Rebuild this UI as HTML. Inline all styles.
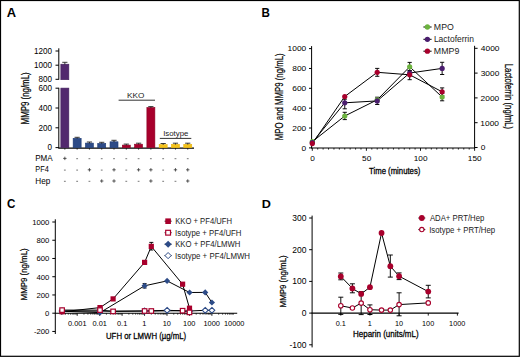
<!DOCTYPE html>
<html><head><meta charset="utf-8"><style>
html,body{margin:0;padding:0;background:#fff;}
svg{display:block;}
text{font-family:"Liberation Sans", sans-serif;}
</style></head><body>
<svg width="520" height="357" viewBox="0 0 520 357">
<rect x="0" y="0" width="520" height="357" fill="#fff"/>
<text x="6.89" y="16.9" font-size="12.21" font-weight="bold" fill="#000" textLength="9.35" lengthAdjust="spacingAndGlyphs">A</text>
<line x1="58.8" y1="48.3" x2="58.8" y2="79.7" stroke="#000" stroke-width="1"/>
<line x1="58.8" y1="87.8" x2="58.8" y2="148.2" stroke="#000" stroke-width="1"/>
<line x1="55.5" y1="51" x2="58.8" y2="51" stroke="#000" stroke-width="1"/>
<text x="34.03" y="53.75" font-size="8.33" font-weight="normal" fill="#000" textLength="17.98" lengthAdjust="spacingAndGlyphs">1200</text>
<line x1="55.5" y1="65.2" x2="58.8" y2="65.2" stroke="#000" stroke-width="1"/>
<text x="34.03" y="67.95" font-size="8.33" font-weight="normal" fill="#000" textLength="17.98" lengthAdjust="spacingAndGlyphs">1000</text>
<line x1="55.5" y1="79.3" x2="58.8" y2="79.3" stroke="#000" stroke-width="1"/>
<text x="38.52" y="82.05" font-size="8.33" font-weight="normal" fill="#000" textLength="13.49" lengthAdjust="spacingAndGlyphs">800</text>
<line x1="55.5" y1="88.2" x2="58.8" y2="88.2" stroke="#000" stroke-width="1"/>
<text x="38.52" y="90.95" font-size="8.33" font-weight="normal" fill="#000" textLength="13.49" lengthAdjust="spacingAndGlyphs">600</text>
<line x1="55.5" y1="108" x2="58.8" y2="108" stroke="#000" stroke-width="1"/>
<text x="38.52" y="110.75" font-size="8.33" font-weight="normal" fill="#000" textLength="13.49" lengthAdjust="spacingAndGlyphs">400</text>
<line x1="55.5" y1="127.8" x2="58.8" y2="127.8" stroke="#000" stroke-width="1"/>
<text x="38.52" y="130.55" font-size="8.33" font-weight="normal" fill="#000" textLength="13.49" lengthAdjust="spacingAndGlyphs">200</text>
<line x1="55.5" y1="147.6" x2="58.8" y2="147.6" stroke="#000" stroke-width="1"/>
<text x="47.51" y="150.35" font-size="8.33" font-weight="normal" fill="#000" textLength="4.5" lengthAdjust="spacingAndGlyphs">0</text>
<text transform="translate(29,123.8) rotate(-90)" x="-0.65" y="0" font-size="10.03" font-weight="normal" fill="#000" stroke="#000" stroke-width="0.22" textLength="52.14" lengthAdjust="spacingAndGlyphs">MMP9 (ng/mL)</text>
<line x1="58.3" y1="148.1" x2="194" y2="148.1" stroke="#000" stroke-width="1.2"/>
<rect x="60.85" y="64.2" width="8" height="15.5" fill="#52286e" stroke="#43205c" stroke-width="0.6"/>
<rect x="60.85" y="88.1" width="8" height="59.6" fill="#52286e" stroke="#43205c" stroke-width="0.6"/>
<line x1="64.85" y1="62.3" x2="64.85" y2="64.4" stroke="#000" stroke-width="0.8"/>
<line x1="62.25" y1="62.3" x2="67.45" y2="62.3" stroke="#222" stroke-width="0.9"/>
<line x1="64.85" y1="148.3" x2="64.85" y2="149.6" stroke="#000" stroke-width="0.8"/>
<rect x="73.14" y="138.3" width="8" height="9.4" fill="#2d4b87" stroke="#1d3a74" stroke-width="0.6"/>
<line x1="77.14" y1="137.3" x2="77.14" y2="138.5" stroke="#000" stroke-width="0.8"/>
<line x1="74.54" y1="137.3" x2="79.74" y2="137.3" stroke="#222" stroke-width="0.9"/>
<line x1="77.14" y1="148.3" x2="77.14" y2="149.6" stroke="#000" stroke-width="0.8"/>
<rect x="85.43" y="143.1" width="8" height="4.6" fill="#2d4b87" stroke="#1d3a74" stroke-width="0.6"/>
<line x1="89.43" y1="142" x2="89.43" y2="143.3" stroke="#000" stroke-width="0.8"/>
<line x1="86.83" y1="142" x2="92.03" y2="142" stroke="#222" stroke-width="0.9"/>
<line x1="89.43" y1="148.3" x2="89.43" y2="149.6" stroke="#000" stroke-width="0.8"/>
<rect x="97.72" y="143.4" width="8" height="4.3" fill="#2d4b87" stroke="#1d3a74" stroke-width="0.6"/>
<line x1="101.72" y1="142.3" x2="101.72" y2="143.6" stroke="#000" stroke-width="0.8"/>
<line x1="99.12" y1="142.3" x2="104.32" y2="142.3" stroke="#222" stroke-width="0.9"/>
<line x1="101.72" y1="148.3" x2="101.72" y2="149.6" stroke="#000" stroke-width="0.8"/>
<rect x="110.01" y="141.8" width="8" height="5.9" fill="#2d4b87" stroke="#1d3a74" stroke-width="0.6"/>
<line x1="114.01" y1="140.3" x2="114.01" y2="142" stroke="#000" stroke-width="0.8"/>
<line x1="111.41" y1="140.3" x2="116.61" y2="140.3" stroke="#222" stroke-width="0.9"/>
<line x1="114.01" y1="148.3" x2="114.01" y2="149.6" stroke="#000" stroke-width="0.8"/>
<rect x="122.3" y="145.1" width="8" height="2.6" fill="#a8002c" stroke="#8c0024" stroke-width="0.6"/>
<line x1="126.3" y1="144.1" x2="126.3" y2="145.3" stroke="#000" stroke-width="0.8"/>
<line x1="123.7" y1="144.1" x2="128.9" y2="144.1" stroke="#222" stroke-width="0.9"/>
<line x1="126.3" y1="148.3" x2="126.3" y2="149.6" stroke="#000" stroke-width="0.8"/>
<rect x="134.59" y="144.2" width="8" height="3.5" fill="#a8002c" stroke="#8c0024" stroke-width="0.6"/>
<line x1="138.59" y1="143.2" x2="138.59" y2="144.4" stroke="#000" stroke-width="0.8"/>
<line x1="135.99" y1="143.2" x2="141.19" y2="143.2" stroke="#222" stroke-width="0.9"/>
<line x1="138.59" y1="148.3" x2="138.59" y2="149.6" stroke="#000" stroke-width="0.8"/>
<rect x="146.88" y="107.5" width="8" height="40.2" fill="#a8002c" stroke="#8c0024" stroke-width="0.6"/>
<line x1="150.88" y1="106.6" x2="150.88" y2="107.7" stroke="#000" stroke-width="0.8"/>
<line x1="148.28" y1="106.6" x2="153.48" y2="106.6" stroke="#222" stroke-width="0.9"/>
<line x1="150.88" y1="148.3" x2="150.88" y2="149.6" stroke="#000" stroke-width="0.8"/>
<rect x="159.17" y="144.6" width="8" height="3.1" fill="#f4c21a" stroke="#e8b410" stroke-width="0.6"/>
<line x1="163.17" y1="143.5" x2="163.17" y2="144.8" stroke="#000" stroke-width="0.8"/>
<line x1="160.57" y1="143.5" x2="165.77" y2="143.5" stroke="#222" stroke-width="0.9"/>
<line x1="163.17" y1="148.3" x2="163.17" y2="149.6" stroke="#000" stroke-width="0.8"/>
<rect x="171.46" y="144.3" width="8" height="3.4" fill="#f4c21a" stroke="#e8b410" stroke-width="0.6"/>
<line x1="175.46" y1="143.2" x2="175.46" y2="144.5" stroke="#000" stroke-width="0.8"/>
<line x1="172.86" y1="143.2" x2="178.06" y2="143.2" stroke="#222" stroke-width="0.9"/>
<line x1="175.46" y1="148.3" x2="175.46" y2="149.6" stroke="#000" stroke-width="0.8"/>
<rect x="183.75" y="144.3" width="8" height="3.4" fill="#f4c21a" stroke="#e8b410" stroke-width="0.6"/>
<line x1="187.75" y1="143.2" x2="187.75" y2="144.5" stroke="#000" stroke-width="0.8"/>
<line x1="185.15" y1="143.2" x2="190.35" y2="143.2" stroke="#222" stroke-width="0.9"/>
<line x1="187.75" y1="148.3" x2="187.75" y2="149.6" stroke="#000" stroke-width="0.8"/>
<line x1="118.6" y1="100.2" x2="155" y2="100.2" stroke="#333" stroke-width="1"/>
<text x="127.13" y="98.3" font-size="7.99" font-weight="normal" fill="#222" textLength="17.37" lengthAdjust="spacingAndGlyphs">KKO</text>
<line x1="159.8" y1="138.4" x2="191.3" y2="138.4" stroke="#333" stroke-width="1"/>
<text x="163.18" y="135.8" font-size="7.85" font-weight="normal" fill="#222" textLength="25.27" lengthAdjust="spacingAndGlyphs">Isotype</text>
<text x="35.24" y="161" font-size="8.72" font-weight="normal" fill="#000" textLength="17.48" lengthAdjust="spacingAndGlyphs">PMA</text>
<text x="35.3" y="172.1" font-size="8.14" font-weight="normal" fill="#000" textLength="13.52" lengthAdjust="spacingAndGlyphs">PF4</text>
<text x="35.23" y="183.6" font-size="8.14" font-weight="normal" fill="#000" textLength="15.01" lengthAdjust="spacingAndGlyphs">Hep</text>
<line x1="63.15" y1="158.4" x2="66.55" y2="158.4" stroke="#333" stroke-width="0.8"/>
<line x1="64.85" y1="156.7" x2="64.85" y2="160.1" stroke="#333" stroke-width="0.8"/>
<line x1="76.24" y1="158.7" x2="78.04" y2="158.7" stroke="#555" stroke-width="0.8"/>
<line x1="88.53" y1="158.7" x2="90.33" y2="158.7" stroke="#555" stroke-width="0.8"/>
<line x1="100.82" y1="158.7" x2="102.62" y2="158.7" stroke="#555" stroke-width="0.8"/>
<line x1="113.11" y1="158.7" x2="114.91" y2="158.7" stroke="#555" stroke-width="0.8"/>
<line x1="125.4" y1="158.7" x2="127.2" y2="158.7" stroke="#555" stroke-width="0.8"/>
<line x1="137.69" y1="158.7" x2="139.49" y2="158.7" stroke="#555" stroke-width="0.8"/>
<line x1="149.98" y1="158.7" x2="151.78" y2="158.7" stroke="#555" stroke-width="0.8"/>
<line x1="162.27" y1="158.7" x2="164.07" y2="158.7" stroke="#555" stroke-width="0.8"/>
<line x1="174.56" y1="158.7" x2="176.36" y2="158.7" stroke="#555" stroke-width="0.8"/>
<line x1="186.85" y1="158.7" x2="188.65" y2="158.7" stroke="#555" stroke-width="0.8"/>
<line x1="63.95" y1="170.1" x2="65.75" y2="170.1" stroke="#555" stroke-width="0.8"/>
<line x1="76.24" y1="170.1" x2="78.04" y2="170.1" stroke="#555" stroke-width="0.8"/>
<line x1="87.73" y1="169.8" x2="91.13" y2="169.8" stroke="#333" stroke-width="0.8"/>
<line x1="89.43" y1="168.1" x2="89.43" y2="171.5" stroke="#333" stroke-width="0.8"/>
<line x1="100.82" y1="170.1" x2="102.62" y2="170.1" stroke="#555" stroke-width="0.8"/>
<line x1="112.31" y1="169.8" x2="115.71" y2="169.8" stroke="#333" stroke-width="0.8"/>
<line x1="114.01" y1="168.1" x2="114.01" y2="171.5" stroke="#333" stroke-width="0.8"/>
<line x1="125.4" y1="170.1" x2="127.2" y2="170.1" stroke="#555" stroke-width="0.8"/>
<line x1="136.89" y1="169.8" x2="140.29" y2="169.8" stroke="#333" stroke-width="0.8"/>
<line x1="138.59" y1="168.1" x2="138.59" y2="171.5" stroke="#333" stroke-width="0.8"/>
<line x1="149.18" y1="169.8" x2="152.58" y2="169.8" stroke="#333" stroke-width="0.8"/>
<line x1="150.88" y1="168.1" x2="150.88" y2="171.5" stroke="#333" stroke-width="0.8"/>
<line x1="162.27" y1="170.1" x2="164.07" y2="170.1" stroke="#555" stroke-width="0.8"/>
<line x1="173.76" y1="169.8" x2="177.16" y2="169.8" stroke="#333" stroke-width="0.8"/>
<line x1="175.46" y1="168.1" x2="175.46" y2="171.5" stroke="#333" stroke-width="0.8"/>
<line x1="186.05" y1="169.8" x2="189.45" y2="169.8" stroke="#333" stroke-width="0.8"/>
<line x1="187.75" y1="168.1" x2="187.75" y2="171.5" stroke="#333" stroke-width="0.8"/>
<line x1="63.95" y1="181.3" x2="65.75" y2="181.3" stroke="#555" stroke-width="0.8"/>
<line x1="76.24" y1="181.3" x2="78.04" y2="181.3" stroke="#555" stroke-width="0.8"/>
<line x1="88.53" y1="181.3" x2="90.33" y2="181.3" stroke="#555" stroke-width="0.8"/>
<line x1="100.02" y1="181" x2="103.42" y2="181" stroke="#333" stroke-width="0.8"/>
<line x1="101.72" y1="179.3" x2="101.72" y2="182.7" stroke="#333" stroke-width="0.8"/>
<line x1="112.31" y1="181" x2="115.71" y2="181" stroke="#333" stroke-width="0.8"/>
<line x1="114.01" y1="179.3" x2="114.01" y2="182.7" stroke="#333" stroke-width="0.8"/>
<line x1="125.4" y1="181.3" x2="127.2" y2="181.3" stroke="#555" stroke-width="0.8"/>
<line x1="137.69" y1="181.3" x2="139.49" y2="181.3" stroke="#555" stroke-width="0.8"/>
<line x1="149.18" y1="181" x2="152.58" y2="181" stroke="#333" stroke-width="0.8"/>
<line x1="150.88" y1="179.3" x2="150.88" y2="182.7" stroke="#333" stroke-width="0.8"/>
<line x1="162.27" y1="181.3" x2="164.07" y2="181.3" stroke="#555" stroke-width="0.8"/>
<line x1="174.56" y1="181.3" x2="176.36" y2="181.3" stroke="#555" stroke-width="0.8"/>
<line x1="186.05" y1="181" x2="189.45" y2="181" stroke="#333" stroke-width="0.8"/>
<line x1="187.75" y1="179.3" x2="187.75" y2="182.7" stroke="#333" stroke-width="0.8"/>
<text x="261.43" y="17" font-size="12.5" font-weight="bold" fill="#000" textLength="8.39" lengthAdjust="spacingAndGlyphs">B</text>
<line x1="311.6" y1="46.1" x2="311.6" y2="148.4" stroke="#000" stroke-width="1"/>
<line x1="309" y1="147.9" x2="311.6" y2="147.9" stroke="#000" stroke-width="1"/>
<text x="301.56" y="150.7" font-size="7.91" font-weight="normal" fill="#000" textLength="4.66" lengthAdjust="spacingAndGlyphs">0</text>
<line x1="309" y1="128.04" x2="311.6" y2="128.04" stroke="#000" stroke-width="1"/>
<text x="292.23" y="130.84" font-size="7.91" font-weight="normal" fill="#000" textLength="13.99" lengthAdjust="spacingAndGlyphs">200</text>
<line x1="309" y1="108.18" x2="311.6" y2="108.18" stroke="#000" stroke-width="1"/>
<text x="292.23" y="110.98" font-size="7.91" font-weight="normal" fill="#000" textLength="13.99" lengthAdjust="spacingAndGlyphs">400</text>
<line x1="309" y1="88.32" x2="311.6" y2="88.32" stroke="#000" stroke-width="1"/>
<text x="292.23" y="91.12" font-size="7.91" font-weight="normal" fill="#000" textLength="13.99" lengthAdjust="spacingAndGlyphs">600</text>
<line x1="309" y1="68.46" x2="311.6" y2="68.46" stroke="#000" stroke-width="1"/>
<text x="292.23" y="71.26" font-size="7.91" font-weight="normal" fill="#000" textLength="13.99" lengthAdjust="spacingAndGlyphs">800</text>
<line x1="309" y1="48.6" x2="311.6" y2="48.6" stroke="#000" stroke-width="1"/>
<text x="287.57" y="51.4" font-size="7.91" font-weight="normal" fill="#000" textLength="18.65" lengthAdjust="spacingAndGlyphs">1000</text>
<text transform="translate(282.6,139.5) rotate(-90)" x="-0.64" y="0" font-size="10.61" font-weight="normal" fill="#000" stroke="#000" stroke-width="0.22" textLength="86.73" lengthAdjust="spacingAndGlyphs">MPO and MMP9 (ng/mL)</text>
<line x1="311.1" y1="148" x2="474.6" y2="148" stroke="#000" stroke-width="1.2"/>
<line x1="312.3" y1="148" x2="312.3" y2="150.8" stroke="#000" stroke-width="0.9"/>
<line x1="317.71" y1="148" x2="317.71" y2="149.6" stroke="#000" stroke-width="0.8"/>
<line x1="323.12" y1="148" x2="323.12" y2="149.6" stroke="#000" stroke-width="0.8"/>
<line x1="328.53" y1="148" x2="328.53" y2="149.6" stroke="#000" stroke-width="0.8"/>
<line x1="333.94" y1="148" x2="333.94" y2="149.6" stroke="#000" stroke-width="0.8"/>
<line x1="339.35" y1="148" x2="339.35" y2="149.6" stroke="#000" stroke-width="0.8"/>
<line x1="344.76" y1="148" x2="344.76" y2="149.6" stroke="#000" stroke-width="0.8"/>
<line x1="350.17" y1="148" x2="350.17" y2="149.6" stroke="#000" stroke-width="0.8"/>
<line x1="355.58" y1="148" x2="355.58" y2="149.6" stroke="#000" stroke-width="0.8"/>
<line x1="360.99" y1="148" x2="360.99" y2="149.6" stroke="#000" stroke-width="0.8"/>
<line x1="366.4" y1="148" x2="366.4" y2="150.8" stroke="#000" stroke-width="0.9"/>
<line x1="371.81" y1="148" x2="371.81" y2="149.6" stroke="#000" stroke-width="0.8"/>
<line x1="377.22" y1="148" x2="377.22" y2="149.6" stroke="#000" stroke-width="0.8"/>
<line x1="382.63" y1="148" x2="382.63" y2="149.6" stroke="#000" stroke-width="0.8"/>
<line x1="388.04" y1="148" x2="388.04" y2="149.6" stroke="#000" stroke-width="0.8"/>
<line x1="393.45" y1="148" x2="393.45" y2="149.6" stroke="#000" stroke-width="0.8"/>
<line x1="398.86" y1="148" x2="398.86" y2="149.6" stroke="#000" stroke-width="0.8"/>
<line x1="404.27" y1="148" x2="404.27" y2="149.6" stroke="#000" stroke-width="0.8"/>
<line x1="409.68" y1="148" x2="409.68" y2="149.6" stroke="#000" stroke-width="0.8"/>
<line x1="415.09" y1="148" x2="415.09" y2="149.6" stroke="#000" stroke-width="0.8"/>
<line x1="420.5" y1="148" x2="420.5" y2="150.8" stroke="#000" stroke-width="0.9"/>
<line x1="425.91" y1="148" x2="425.91" y2="149.6" stroke="#000" stroke-width="0.8"/>
<line x1="431.32" y1="148" x2="431.32" y2="149.6" stroke="#000" stroke-width="0.8"/>
<line x1="436.73" y1="148" x2="436.73" y2="149.6" stroke="#000" stroke-width="0.8"/>
<line x1="442.14" y1="148" x2="442.14" y2="149.6" stroke="#000" stroke-width="0.8"/>
<line x1="447.55" y1="148" x2="447.55" y2="149.6" stroke="#000" stroke-width="0.8"/>
<line x1="452.96" y1="148" x2="452.96" y2="149.6" stroke="#000" stroke-width="0.8"/>
<line x1="458.37" y1="148" x2="458.37" y2="149.6" stroke="#000" stroke-width="0.8"/>
<line x1="463.78" y1="148" x2="463.78" y2="149.6" stroke="#000" stroke-width="0.8"/>
<line x1="469.19" y1="148" x2="469.19" y2="149.6" stroke="#000" stroke-width="0.8"/>
<line x1="474.6" y1="148" x2="474.6" y2="150.8" stroke="#000" stroke-width="0.9"/>
<text x="310.31" y="161.4" font-size="7.77" font-weight="normal" fill="#000" textLength="4.58" lengthAdjust="spacingAndGlyphs">0</text>
<text x="362.11" y="161.4" font-size="7.77" font-weight="normal" fill="#000" textLength="9.16" lengthAdjust="spacingAndGlyphs">50</text>
<text x="413.78" y="161.4" font-size="7.77" font-weight="normal" fill="#000" textLength="13.74" lengthAdjust="spacingAndGlyphs">100</text>
<text x="467.88" y="161.4" font-size="7.77" font-weight="normal" fill="#000" textLength="13.74" lengthAdjust="spacingAndGlyphs">150</text>
<text x="369.03" y="174" font-size="9.45" font-weight="normal" fill="#000" stroke="#000" stroke-width="0.3" textLength="51.35" lengthAdjust="spacingAndGlyphs">Time (minutes)</text>
<line x1="474.6" y1="45.8" x2="474.6" y2="148.4" stroke="#000" stroke-width="1"/>
<line x1="474.6" y1="147.5" x2="477.6" y2="147.5" stroke="#000" stroke-width="1"/>
<text x="480.67" y="150.3" font-size="7.91" font-weight="normal" fill="#000" textLength="4.66" lengthAdjust="spacingAndGlyphs">0</text>
<line x1="474.6" y1="122.7" x2="477.6" y2="122.7" stroke="#000" stroke-width="1"/>
<text x="480.36" y="125.5" font-size="7.91" font-weight="normal" fill="#000" textLength="18.65" lengthAdjust="spacingAndGlyphs">1000</text>
<line x1="474.6" y1="97.9" x2="477.6" y2="97.9" stroke="#000" stroke-width="1"/>
<text x="480.58" y="100.7" font-size="7.91" font-weight="normal" fill="#000" textLength="18.65" lengthAdjust="spacingAndGlyphs">2000</text>
<line x1="474.6" y1="73.1" x2="477.6" y2="73.1" stroke="#000" stroke-width="1"/>
<text x="480.68" y="75.9" font-size="7.91" font-weight="normal" fill="#000" textLength="18.65" lengthAdjust="spacingAndGlyphs">3000</text>
<line x1="474.6" y1="48.3" x2="477.6" y2="48.3" stroke="#000" stroke-width="1"/>
<text x="480.82" y="51.1" font-size="7.91" font-weight="normal" fill="#000" textLength="18.65" lengthAdjust="spacingAndGlyphs">4000</text>
<text transform="translate(505.4,64.4) rotate(90)" x="-0.63" y="0" font-size="10.03" font-weight="normal" fill="#000" stroke="#000" stroke-width="0.22" textLength="65.41" lengthAdjust="spacingAndGlyphs">Lactoferrin (ng/mL)</text>
<polyline points="312.3,141.7 344.76,116 377.22,99.8 409.68,66.8 442.14,97" fill="none" stroke="#000" stroke-width="1" stroke-linejoin="round"/>
<polyline points="312.3,142.5 344.76,102.8 377.22,100.9 409.68,73 442.14,68.4" fill="none" stroke="#000" stroke-width="1" stroke-linejoin="round"/>
<polyline points="312.3,143.6 344.76,96.5 377.22,72.3 409.68,74.8 442.14,91.8" fill="none" stroke="#000" stroke-width="1" stroke-linejoin="round"/>
<line x1="344.76" y1="112.3" x2="344.76" y2="119.6" stroke="#000" stroke-width="0.95"/>
<line x1="342.66" y1="112.3" x2="346.86" y2="112.3" stroke="#000" stroke-width="0.95"/>
<line x1="342.66" y1="119.6" x2="346.86" y2="119.6" stroke="#000" stroke-width="0.95"/>
<line x1="409.68" y1="62.4" x2="409.68" y2="70.5" stroke="#000" stroke-width="0.95"/>
<line x1="407.58" y1="62.4" x2="411.78" y2="62.4" stroke="#000" stroke-width="0.95"/>
<line x1="407.58" y1="70.5" x2="411.78" y2="70.5" stroke="#000" stroke-width="0.95"/>
<line x1="442.14" y1="93.5" x2="442.14" y2="100.8" stroke="#000" stroke-width="0.95"/>
<line x1="440.04" y1="93.5" x2="444.24" y2="93.5" stroke="#000" stroke-width="0.95"/>
<line x1="440.04" y1="100.8" x2="444.24" y2="100.8" stroke="#000" stroke-width="0.95"/>
<line x1="344.76" y1="99.2" x2="344.76" y2="108.8" stroke="#000" stroke-width="0.95"/>
<line x1="342.66" y1="99.2" x2="346.86" y2="99.2" stroke="#000" stroke-width="0.95"/>
<line x1="342.66" y1="108.8" x2="346.86" y2="108.8" stroke="#000" stroke-width="0.95"/>
<line x1="377.22" y1="97.2" x2="377.22" y2="104.5" stroke="#000" stroke-width="0.95"/>
<line x1="375.12" y1="97.2" x2="379.32" y2="97.2" stroke="#000" stroke-width="0.95"/>
<line x1="375.12" y1="104.5" x2="379.32" y2="104.5" stroke="#000" stroke-width="0.95"/>
<line x1="442.14" y1="62.3" x2="442.14" y2="74.5" stroke="#000" stroke-width="0.95"/>
<line x1="440.04" y1="62.3" x2="444.24" y2="62.3" stroke="#000" stroke-width="0.95"/>
<line x1="440.04" y1="74.5" x2="444.24" y2="74.5" stroke="#000" stroke-width="0.95"/>
<line x1="377.22" y1="68.4" x2="377.22" y2="76.3" stroke="#000" stroke-width="0.95"/>
<line x1="375.12" y1="68.4" x2="379.32" y2="68.4" stroke="#000" stroke-width="0.95"/>
<line x1="375.12" y1="76.3" x2="379.32" y2="76.3" stroke="#000" stroke-width="0.95"/>
<line x1="409.68" y1="71" x2="409.68" y2="79.7" stroke="#000" stroke-width="0.95"/>
<line x1="407.58" y1="71" x2="411.78" y2="71" stroke="#000" stroke-width="0.95"/>
<line x1="407.58" y1="79.7" x2="411.78" y2="79.7" stroke="#000" stroke-width="0.95"/>
<line x1="442.14" y1="87.9" x2="442.14" y2="95.5" stroke="#000" stroke-width="0.95"/>
<line x1="440.04" y1="87.9" x2="444.24" y2="87.9" stroke="#000" stroke-width="0.95"/>
<line x1="440.04" y1="95.5" x2="444.24" y2="95.5" stroke="#000" stroke-width="0.95"/>
<circle cx="312.3" cy="141.7" r="2.6" fill="#6cb33f"/>
<circle cx="344.76" cy="116" r="2.6" fill="#6cb33f"/>
<circle cx="377.22" cy="99.8" r="2.6" fill="#6cb33f"/>
<circle cx="409.68" cy="66.8" r="2.6" fill="#6cb33f"/>
<circle cx="442.14" cy="97" r="2.6" fill="#6cb33f"/>
<circle cx="312.3" cy="142.5" r="2.6" fill="#4a1d6e"/>
<circle cx="344.76" cy="102.8" r="2.6" fill="#4a1d6e"/>
<circle cx="377.22" cy="100.9" r="2.6" fill="#4a1d6e"/>
<circle cx="409.68" cy="73" r="2.6" fill="#4a1d6e"/>
<circle cx="442.14" cy="68.4" r="2.6" fill="#4a1d6e"/>
<circle cx="312.3" cy="143.6" r="2.6" fill="#a8002c"/>
<circle cx="344.76" cy="96.5" r="2.6" fill="#a8002c"/>
<circle cx="377.22" cy="72.3" r="2.6" fill="#a8002c"/>
<circle cx="409.68" cy="74.8" r="2.6" fill="#a8002c"/>
<circle cx="442.14" cy="91.8" r="2.6" fill="#a8002c"/>
<line x1="423.4" y1="27" x2="431.6" y2="27" stroke="#000" stroke-width="1"/>
<circle cx="427.4" cy="27" r="2.65" fill="#6cb33f"/>
<text x="433.88" y="29.9" font-size="8.28" font-weight="normal" fill="#222" textLength="19.94" lengthAdjust="spacingAndGlyphs">MPO</text>
<line x1="423.4" y1="39.3" x2="431.6" y2="39.3" stroke="#000" stroke-width="1"/>
<circle cx="427.4" cy="39.3" r="2.65" fill="#4a1d6e"/>
<text x="433.91" y="42.2" font-size="8.28" font-weight="normal" fill="#222" textLength="40.04" lengthAdjust="spacingAndGlyphs">Lactoferrin</text>
<line x1="423.4" y1="51.2" x2="431.6" y2="51.2" stroke="#000" stroke-width="1"/>
<circle cx="427.4" cy="51.2" r="2.65" fill="#a8002c"/>
<text x="433.88" y="54.1" font-size="8.28" font-weight="normal" fill="#222" textLength="25.44" lengthAdjust="spacingAndGlyphs">MMP9</text>
<text x="7.02" y="208" font-size="11.92" font-weight="bold" fill="#000" textLength="8.39" lengthAdjust="spacingAndGlyphs">C</text>
<line x1="55.3" y1="219.3" x2="55.3" y2="334" stroke="#000" stroke-width="1"/>
<line x1="52.3" y1="331.44" x2="55.3" y2="331.44" stroke="#000" stroke-width="1"/>
<text x="33.88" y="334.24" font-size="7.91" font-weight="normal" fill="#000" textLength="15.51" lengthAdjust="spacingAndGlyphs">-200</text>
<line x1="52.3" y1="313.2" x2="55.3" y2="313.2" stroke="#000" stroke-width="1"/>
<text x="45.08" y="316" font-size="7.91" font-weight="normal" fill="#000" textLength="4.31" lengthAdjust="spacingAndGlyphs">0</text>
<line x1="52.3" y1="294.96" x2="55.3" y2="294.96" stroke="#000" stroke-width="1"/>
<text x="36.47" y="297.76" font-size="7.91" font-weight="normal" fill="#000" textLength="12.93" lengthAdjust="spacingAndGlyphs">200</text>
<line x1="52.3" y1="276.72" x2="55.3" y2="276.72" stroke="#000" stroke-width="1"/>
<text x="36.47" y="279.52" font-size="7.91" font-weight="normal" fill="#000" textLength="12.93" lengthAdjust="spacingAndGlyphs">400</text>
<line x1="52.3" y1="258.48" x2="55.3" y2="258.48" stroke="#000" stroke-width="1"/>
<text x="36.47" y="261.28" font-size="7.91" font-weight="normal" fill="#000" textLength="12.93" lengthAdjust="spacingAndGlyphs">600</text>
<line x1="52.3" y1="240.24" x2="55.3" y2="240.24" stroke="#000" stroke-width="1"/>
<text x="36.47" y="243.04" font-size="7.91" font-weight="normal" fill="#000" textLength="12.93" lengthAdjust="spacingAndGlyphs">800</text>
<line x1="52.3" y1="222" x2="55.3" y2="222" stroke="#000" stroke-width="1"/>
<text x="32.16" y="224.8" font-size="7.91" font-weight="normal" fill="#000" textLength="17.24" lengthAdjust="spacingAndGlyphs">1000</text>
<text transform="translate(26.7,299.8) rotate(-90)" x="-0.65" y="0" font-size="9.59" font-weight="normal" fill="#000" stroke="#000" stroke-width="0.22" textLength="52.14" lengthAdjust="spacingAndGlyphs">MMP9 (ng/mL)</text>
<line x1="54.8" y1="313.2" x2="237.2" y2="313.2" stroke="#000" stroke-width="1.1"/>
<line x1="61.51" y1="313.2" x2="61.51" y2="314.7" stroke="#000" stroke-width="0.7"/>
<line x1="65.46" y1="313.2" x2="65.46" y2="314.7" stroke="#000" stroke-width="0.7"/>
<line x1="68.27" y1="313.2" x2="68.27" y2="314.7" stroke="#000" stroke-width="0.7"/>
<line x1="70.44" y1="313.2" x2="70.44" y2="314.7" stroke="#000" stroke-width="0.7"/>
<line x1="72.22" y1="313.2" x2="72.22" y2="314.7" stroke="#000" stroke-width="0.7"/>
<line x1="73.72" y1="313.2" x2="73.72" y2="314.7" stroke="#000" stroke-width="0.7"/>
<line x1="75.02" y1="313.2" x2="75.02" y2="314.7" stroke="#000" stroke-width="0.7"/>
<line x1="76.17" y1="313.2" x2="76.17" y2="314.7" stroke="#000" stroke-width="0.7"/>
<line x1="77.2" y1="313.2" x2="77.2" y2="315.8" stroke="#000" stroke-width="0.9"/>
<line x1="83.96" y1="313.2" x2="83.96" y2="314.7" stroke="#000" stroke-width="0.7"/>
<line x1="87.91" y1="313.2" x2="87.91" y2="314.7" stroke="#000" stroke-width="0.7"/>
<line x1="90.72" y1="313.2" x2="90.72" y2="314.7" stroke="#000" stroke-width="0.7"/>
<line x1="92.89" y1="313.2" x2="92.89" y2="314.7" stroke="#000" stroke-width="0.7"/>
<line x1="94.67" y1="313.2" x2="94.67" y2="314.7" stroke="#000" stroke-width="0.7"/>
<line x1="96.17" y1="313.2" x2="96.17" y2="314.7" stroke="#000" stroke-width="0.7"/>
<line x1="97.47" y1="313.2" x2="97.47" y2="314.7" stroke="#000" stroke-width="0.7"/>
<line x1="98.62" y1="313.2" x2="98.62" y2="314.7" stroke="#000" stroke-width="0.7"/>
<line x1="99.65" y1="313.2" x2="99.65" y2="315.8" stroke="#000" stroke-width="0.9"/>
<line x1="106.41" y1="313.2" x2="106.41" y2="314.7" stroke="#000" stroke-width="0.7"/>
<line x1="110.36" y1="313.2" x2="110.36" y2="314.7" stroke="#000" stroke-width="0.7"/>
<line x1="113.17" y1="313.2" x2="113.17" y2="314.7" stroke="#000" stroke-width="0.7"/>
<line x1="115.34" y1="313.2" x2="115.34" y2="314.7" stroke="#000" stroke-width="0.7"/>
<line x1="117.12" y1="313.2" x2="117.12" y2="314.7" stroke="#000" stroke-width="0.7"/>
<line x1="118.62" y1="313.2" x2="118.62" y2="314.7" stroke="#000" stroke-width="0.7"/>
<line x1="119.92" y1="313.2" x2="119.92" y2="314.7" stroke="#000" stroke-width="0.7"/>
<line x1="121.07" y1="313.2" x2="121.07" y2="314.7" stroke="#000" stroke-width="0.7"/>
<line x1="122.1" y1="313.2" x2="122.1" y2="315.8" stroke="#000" stroke-width="0.9"/>
<line x1="128.86" y1="313.2" x2="128.86" y2="314.7" stroke="#000" stroke-width="0.7"/>
<line x1="132.81" y1="313.2" x2="132.81" y2="314.7" stroke="#000" stroke-width="0.7"/>
<line x1="135.62" y1="313.2" x2="135.62" y2="314.7" stroke="#000" stroke-width="0.7"/>
<line x1="137.79" y1="313.2" x2="137.79" y2="314.7" stroke="#000" stroke-width="0.7"/>
<line x1="139.57" y1="313.2" x2="139.57" y2="314.7" stroke="#000" stroke-width="0.7"/>
<line x1="141.07" y1="313.2" x2="141.07" y2="314.7" stroke="#000" stroke-width="0.7"/>
<line x1="142.37" y1="313.2" x2="142.37" y2="314.7" stroke="#000" stroke-width="0.7"/>
<line x1="143.52" y1="313.2" x2="143.52" y2="314.7" stroke="#000" stroke-width="0.7"/>
<line x1="144.55" y1="313.2" x2="144.55" y2="315.8" stroke="#000" stroke-width="0.9"/>
<line x1="151.31" y1="313.2" x2="151.31" y2="314.7" stroke="#000" stroke-width="0.7"/>
<line x1="155.26" y1="313.2" x2="155.26" y2="314.7" stroke="#000" stroke-width="0.7"/>
<line x1="158.07" y1="313.2" x2="158.07" y2="314.7" stroke="#000" stroke-width="0.7"/>
<line x1="160.24" y1="313.2" x2="160.24" y2="314.7" stroke="#000" stroke-width="0.7"/>
<line x1="162.02" y1="313.2" x2="162.02" y2="314.7" stroke="#000" stroke-width="0.7"/>
<line x1="163.52" y1="313.2" x2="163.52" y2="314.7" stroke="#000" stroke-width="0.7"/>
<line x1="164.82" y1="313.2" x2="164.82" y2="314.7" stroke="#000" stroke-width="0.7"/>
<line x1="165.97" y1="313.2" x2="165.97" y2="314.7" stroke="#000" stroke-width="0.7"/>
<line x1="167" y1="313.2" x2="167" y2="315.8" stroke="#000" stroke-width="0.9"/>
<line x1="173.76" y1="313.2" x2="173.76" y2="314.7" stroke="#000" stroke-width="0.7"/>
<line x1="177.71" y1="313.2" x2="177.71" y2="314.7" stroke="#000" stroke-width="0.7"/>
<line x1="180.52" y1="313.2" x2="180.52" y2="314.7" stroke="#000" stroke-width="0.7"/>
<line x1="182.69" y1="313.2" x2="182.69" y2="314.7" stroke="#000" stroke-width="0.7"/>
<line x1="184.47" y1="313.2" x2="184.47" y2="314.7" stroke="#000" stroke-width="0.7"/>
<line x1="185.97" y1="313.2" x2="185.97" y2="314.7" stroke="#000" stroke-width="0.7"/>
<line x1="187.27" y1="313.2" x2="187.27" y2="314.7" stroke="#000" stroke-width="0.7"/>
<line x1="188.42" y1="313.2" x2="188.42" y2="314.7" stroke="#000" stroke-width="0.7"/>
<line x1="189.45" y1="313.2" x2="189.45" y2="315.8" stroke="#000" stroke-width="0.9"/>
<line x1="196.21" y1="313.2" x2="196.21" y2="314.7" stroke="#000" stroke-width="0.7"/>
<line x1="200.16" y1="313.2" x2="200.16" y2="314.7" stroke="#000" stroke-width="0.7"/>
<line x1="202.97" y1="313.2" x2="202.97" y2="314.7" stroke="#000" stroke-width="0.7"/>
<line x1="205.14" y1="313.2" x2="205.14" y2="314.7" stroke="#000" stroke-width="0.7"/>
<line x1="206.92" y1="313.2" x2="206.92" y2="314.7" stroke="#000" stroke-width="0.7"/>
<line x1="208.42" y1="313.2" x2="208.42" y2="314.7" stroke="#000" stroke-width="0.7"/>
<line x1="209.72" y1="313.2" x2="209.72" y2="314.7" stroke="#000" stroke-width="0.7"/>
<line x1="210.87" y1="313.2" x2="210.87" y2="314.7" stroke="#000" stroke-width="0.7"/>
<line x1="211.9" y1="313.2" x2="211.9" y2="315.8" stroke="#000" stroke-width="0.9"/>
<line x1="218.66" y1="313.2" x2="218.66" y2="314.7" stroke="#000" stroke-width="0.7"/>
<line x1="222.61" y1="313.2" x2="222.61" y2="314.7" stroke="#000" stroke-width="0.7"/>
<line x1="225.42" y1="313.2" x2="225.42" y2="314.7" stroke="#000" stroke-width="0.7"/>
<line x1="227.59" y1="313.2" x2="227.59" y2="314.7" stroke="#000" stroke-width="0.7"/>
<line x1="229.37" y1="313.2" x2="229.37" y2="314.7" stroke="#000" stroke-width="0.7"/>
<line x1="230.87" y1="313.2" x2="230.87" y2="314.7" stroke="#000" stroke-width="0.7"/>
<line x1="232.17" y1="313.2" x2="232.17" y2="314.7" stroke="#000" stroke-width="0.7"/>
<line x1="233.32" y1="313.2" x2="233.32" y2="314.7" stroke="#000" stroke-width="0.7"/>
<text x="67.96" y="325.9" font-size="7.06" font-weight="normal" fill="#000" textLength="18.56" lengthAdjust="spacingAndGlyphs">0.001</text>
<text x="92.47" y="325.9" font-size="7.06" font-weight="normal" fill="#000" textLength="14.43" lengthAdjust="spacingAndGlyphs">0.01</text>
<text x="116.98" y="325.9" font-size="7.06" font-weight="normal" fill="#000" textLength="10.31" lengthAdjust="spacingAndGlyphs">0.1</text>
<text x="142.38" y="325.9" font-size="7.06" font-weight="normal" fill="#000" textLength="4.12" lengthAdjust="spacingAndGlyphs">1</text>
<text x="162.74" y="325.9" font-size="7.06" font-weight="normal" fill="#000" textLength="8.25" lengthAdjust="spacingAndGlyphs">10</text>
<text x="183.12" y="325.9" font-size="7.06" font-weight="normal" fill="#000" textLength="12.37" lengthAdjust="spacingAndGlyphs">100</text>
<text x="203.51" y="325.9" font-size="7.06" font-weight="normal" fill="#000" textLength="16.5" lengthAdjust="spacingAndGlyphs">1000</text>
<text x="223.9" y="325.9" font-size="7.06" font-weight="normal" fill="#000" textLength="20.62" lengthAdjust="spacingAndGlyphs">10000</text>
<text x="106" y="338.6" font-size="9.74" font-weight="normal" fill="#000" stroke="#000" stroke-width="0.3" textLength="80.19" lengthAdjust="spacingAndGlyphs">UFH or LMWH (µg/mL)</text>
<polyline points="62.1,311 100,311.2 144.6,311 167.1,310.3 189.6,311 205.2,310.3 211.9,310.3" fill="none" stroke="#000" stroke-width="1" stroke-linejoin="round"/>
<polyline points="62.1,311.2 100,312.6 144.6,285.8 167.1,280.9 189.6,292.5 205.2,292.4 211.9,302.5" fill="none" stroke="#000" stroke-width="1" stroke-linejoin="round"/>
<polyline points="62.1,311.8 100,307.6 113.1,298.9 144.6,262.4 151.3,246.4 182.6,284.2 189.5,308.2" fill="none" stroke="#000" stroke-width="1" stroke-linejoin="round"/>
<polyline points="62.1,310.1 100,310.1 113.1,311.4 144.6,311 151.3,311 182.6,310.7 189.5,312.4" fill="none" stroke="#000" stroke-width="1" stroke-linejoin="round"/>
<line x1="151.3" y1="242.4" x2="151.3" y2="250" stroke="#000" stroke-width="0.95"/>
<line x1="149.3" y1="242.4" x2="153.3" y2="242.4" stroke="#000" stroke-width="0.95"/>
<line x1="149.3" y1="250" x2="153.3" y2="250" stroke="#000" stroke-width="0.95"/>
<line x1="144.6" y1="283.6" x2="144.6" y2="288" stroke="#000" stroke-width="0.95"/>
<line x1="142.6" y1="283.6" x2="146.6" y2="283.6" stroke="#000" stroke-width="0.95"/>
<line x1="142.6" y1="288" x2="146.6" y2="288" stroke="#000" stroke-width="0.95"/>
<polygon points="62.1,308.1 65,311 62.1,313.9 59.2,311" fill="#fff" stroke="#2d4b87" stroke-width="1.05"/>
<polygon points="100,308.3 102.9,311.2 100,314.1 97.1,311.2" fill="#fff" stroke="#2d4b87" stroke-width="1.05"/>
<polygon points="144.6,308.1 147.5,311 144.6,313.9 141.7,311" fill="#fff" stroke="#2d4b87" stroke-width="1.05"/>
<polygon points="167.1,307.4 170,310.3 167.1,313.2 164.2,310.3" fill="#fff" stroke="#2d4b87" stroke-width="1.05"/>
<polygon points="189.6,308.1 192.5,311 189.6,313.9 186.7,311" fill="#fff" stroke="#2d4b87" stroke-width="1.05"/>
<polygon points="205.2,307.4 208.1,310.3 205.2,313.2 202.3,310.3" fill="#fff" stroke="#2d4b87" stroke-width="1.05"/>
<polygon points="211.9,307.4 214.8,310.3 211.9,313.2 209,310.3" fill="#fff" stroke="#2d4b87" stroke-width="1.05"/>
<polygon points="62.1,308.1 65.2,311.2 62.1,314.3 59,311.2" fill="#2d4b87"/>
<polygon points="100,309.5 103.1,312.6 100,315.7 96.9,312.6" fill="#2d4b87"/>
<polygon points="144.6,282.7 147.7,285.8 144.6,288.9 141.5,285.8" fill="#2d4b87"/>
<polygon points="167.1,277.8 170.2,280.9 167.1,284 164,280.9" fill="#2d4b87"/>
<polygon points="189.6,289.4 192.7,292.5 189.6,295.6 186.5,292.5" fill="#2d4b87"/>
<polygon points="205.2,289.3 208.3,292.4 205.2,295.5 202.1,292.4" fill="#2d4b87"/>
<polygon points="211.9,299.4 215,302.5 211.9,305.6 208.8,302.5" fill="#2d4b87"/>
<rect x="59.5" y="309.2" width="5.2" height="5.2" fill="#a8002c"/>
<rect x="97.4" y="305" width="5.2" height="5.2" fill="#a8002c"/>
<rect x="110.5" y="296.3" width="5.2" height="5.2" fill="#a8002c"/>
<rect x="142" y="259.8" width="5.2" height="5.2" fill="#a8002c"/>
<rect x="148.7" y="243.8" width="5.2" height="5.2" fill="#a8002c"/>
<rect x="180" y="281.6" width="5.2" height="5.2" fill="#a8002c"/>
<rect x="186.9" y="305.6" width="5.2" height="5.2" fill="#a8002c"/>
<rect x="59.85" y="307.85" width="4.5" height="4.5" fill="#fff" stroke="#a8002c" stroke-width="1.2"/>
<rect x="97.75" y="307.85" width="4.5" height="4.5" fill="#fff" stroke="#a8002c" stroke-width="1.2"/>
<rect x="110.85" y="309.15" width="4.5" height="4.5" fill="#fff" stroke="#a8002c" stroke-width="1.2"/>
<rect x="142.35" y="308.75" width="4.5" height="4.5" fill="#fff" stroke="#a8002c" stroke-width="1.2"/>
<rect x="149.05" y="308.75" width="4.5" height="4.5" fill="#fff" stroke="#a8002c" stroke-width="1.2"/>
<rect x="180.35" y="308.45" width="4.5" height="4.5" fill="#fff" stroke="#a8002c" stroke-width="1.2"/>
<rect x="187.25" y="310.15" width="4.5" height="4.5" fill="#fff" stroke="#a8002c" stroke-width="1.2"/>
<line x1="164.6" y1="221.2" x2="171.6" y2="221.2" stroke="#000" stroke-width="0.9"/>
<rect x="165.3" y="218.4" width="5.6" height="5.6" fill="#a8002c"/>
<text x="175.17" y="224.1" font-size="8.28" font-weight="normal" fill="#222" textLength="56.96" lengthAdjust="spacingAndGlyphs">KKO + PF4/UFH</text>
<line x1="164.6" y1="232.7" x2="171.6" y2="232.7" stroke="#000" stroke-width="0.9"/>
<rect x="165.7" y="230.3" width="4.8" height="4.8" fill="#fff" stroke="#a8002c" stroke-width="1.2"/>
<text x="175.08" y="235.6" font-size="8.28" font-weight="normal" fill="#222" textLength="66.34" lengthAdjust="spacingAndGlyphs">Isotype + PF4/UFH</text>
<line x1="164.6" y1="244.2" x2="171.6" y2="244.2" stroke="#000" stroke-width="0.9"/>
<polygon points="168.1,240.7 171.6,244.2 168.1,247.7 164.6,244.2" fill="#2d4b87"/>
<text x="175.16" y="247.1" font-size="8.28" font-weight="normal" fill="#222" textLength="65.27" lengthAdjust="spacingAndGlyphs">KKO + PF4/LMWH</text>
<line x1="164.6" y1="255.6" x2="171.6" y2="255.6" stroke="#000" stroke-width="0.9"/>
<polygon points="168.1,252.5 171.2,255.6 168.1,258.7 165,255.6" fill="#fff" stroke="#2d4b87" stroke-width="1"/>
<text x="175.08" y="258.5" font-size="8.28" font-weight="normal" fill="#222" textLength="74.96" lengthAdjust="spacingAndGlyphs">Isotype + PF4/LMWH</text>
<text x="261.66" y="207.7" font-size="11.48" font-weight="bold" fill="#000" textLength="9.16" lengthAdjust="spacingAndGlyphs">D</text>
<line x1="312.1" y1="215.6" x2="312.1" y2="347.4" stroke="#000" stroke-width="1"/>
<line x1="309.2" y1="344.8" x2="312.1" y2="344.8" stroke="#000" stroke-width="1"/>
<text x="289.48" y="347.6" font-size="8.19" font-weight="normal" fill="#000" textLength="17.05" lengthAdjust="spacingAndGlyphs">-100</text>
<line x1="309.2" y1="313.1" x2="312.1" y2="313.1" stroke="#000" stroke-width="1"/>
<text x="301.79" y="315.9" font-size="8.19" font-weight="normal" fill="#000" textLength="4.74" lengthAdjust="spacingAndGlyphs">0</text>
<line x1="309.2" y1="281.4" x2="312.1" y2="281.4" stroke="#000" stroke-width="1"/>
<text x="292.31" y="284.2" font-size="8.19" font-weight="normal" fill="#000" textLength="14.21" lengthAdjust="spacingAndGlyphs">100</text>
<line x1="309.2" y1="249.7" x2="312.1" y2="249.7" stroke="#000" stroke-width="1"/>
<text x="292.31" y="252.5" font-size="8.19" font-weight="normal" fill="#000" textLength="14.21" lengthAdjust="spacingAndGlyphs">200</text>
<line x1="309.2" y1="218" x2="312.1" y2="218" stroke="#000" stroke-width="1"/>
<text x="292.31" y="220.8" font-size="8.19" font-weight="normal" fill="#000" textLength="14.21" lengthAdjust="spacingAndGlyphs">300</text>
<text transform="translate(286.2,306.8) rotate(-90)" x="-0.65" y="0" font-size="9.59" font-weight="normal" fill="#000" stroke="#000" stroke-width="0.22" textLength="52.14" lengthAdjust="spacingAndGlyphs">MMP9 (ng/mL)</text>
<line x1="311.6" y1="313.1" x2="458.6" y2="313.1" stroke="#000" stroke-width="1.1"/>
<line x1="340.8" y1="313.1" x2="340.8" y2="315.6" stroke="#000" stroke-width="0.9"/>
<text x="335.76" y="325.8" font-size="6.64" font-weight="normal" fill="#000" textLength="10.15" lengthAdjust="spacingAndGlyphs">0.1</text>
<line x1="369.95" y1="313.1" x2="369.95" y2="315.6" stroke="#000" stroke-width="0.9"/>
<text x="367.82" y="325.8" font-size="6.64" font-weight="normal" fill="#000" textLength="4.06" lengthAdjust="spacingAndGlyphs">1</text>
<line x1="399.1" y1="313.1" x2="399.1" y2="315.6" stroke="#000" stroke-width="0.9"/>
<text x="394.9" y="325.8" font-size="6.64" font-weight="normal" fill="#000" textLength="8.12" lengthAdjust="spacingAndGlyphs">10</text>
<line x1="428.25" y1="313.1" x2="428.25" y2="315.6" stroke="#000" stroke-width="0.9"/>
<text x="422.02" y="325.8" font-size="6.64" font-weight="normal" fill="#000" textLength="12.18" lengthAdjust="spacingAndGlyphs">100</text>
<line x1="457.4" y1="313.1" x2="457.4" y2="315.6" stroke="#000" stroke-width="0.9"/>
<text x="449.14" y="325.8" font-size="6.64" font-weight="normal" fill="#000" textLength="16.24" lengthAdjust="spacingAndGlyphs">1000</text>
<text x="353.05" y="336.9" font-size="9.59" font-weight="normal" fill="#000" stroke="#000" stroke-width="0.3" textLength="65.55" lengthAdjust="spacingAndGlyphs">Heparin (units/mL)</text>
<polyline points="340.8,305.8 352.4,308 361.17,303.1 369.95,309.7 381.55,310.1 390.32,310.1 399.1,304.6 428.25,302.9" fill="none" stroke="#000" stroke-width="1" stroke-linejoin="round"/>
<polyline points="340.8,276.4 352.4,288.4 361.17,293.9 369.95,287.2 381.55,233 390.32,266.2 399.1,276.2 428.25,291.6" fill="none" stroke="#000" stroke-width="1" stroke-linejoin="round"/>
<line x1="340.8" y1="297.2" x2="340.8" y2="314.4" stroke="#000" stroke-width="0.95"/>
<line x1="338.3" y1="297.2" x2="343.3" y2="297.2" stroke="#000" stroke-width="0.95"/>
<line x1="338.3" y1="314.4" x2="343.3" y2="314.4" stroke="#000" stroke-width="0.95"/>
<line x1="361.17" y1="291.6" x2="361.17" y2="314.6" stroke="#000" stroke-width="0.95"/>
<line x1="358.67" y1="291.6" x2="363.67" y2="291.6" stroke="#000" stroke-width="0.95"/>
<line x1="358.67" y1="314.6" x2="363.67" y2="314.6" stroke="#000" stroke-width="0.95"/>
<line x1="369.95" y1="304.9" x2="369.95" y2="314.5" stroke="#000" stroke-width="0.95"/>
<line x1="367.45" y1="304.9" x2="372.45" y2="304.9" stroke="#000" stroke-width="0.95"/>
<line x1="367.45" y1="314.5" x2="372.45" y2="314.5" stroke="#000" stroke-width="0.95"/>
<line x1="399.1" y1="292.8" x2="399.1" y2="315.8" stroke="#000" stroke-width="0.95"/>
<line x1="396.6" y1="292.8" x2="401.6" y2="292.8" stroke="#000" stroke-width="0.95"/>
<line x1="396.6" y1="315.8" x2="401.6" y2="315.8" stroke="#000" stroke-width="0.95"/>
<line x1="340.8" y1="273" x2="340.8" y2="279.8" stroke="#000" stroke-width="0.95"/>
<line x1="338.3" y1="273" x2="343.3" y2="273" stroke="#000" stroke-width="0.95"/>
<line x1="338.3" y1="279.8" x2="343.3" y2="279.8" stroke="#000" stroke-width="0.95"/>
<line x1="352.4" y1="283.8" x2="352.4" y2="292.8" stroke="#000" stroke-width="0.95"/>
<line x1="349.9" y1="283.8" x2="354.9" y2="283.8" stroke="#000" stroke-width="0.95"/>
<line x1="349.9" y1="292.8" x2="354.9" y2="292.8" stroke="#000" stroke-width="0.95"/>
<line x1="390.32" y1="255" x2="390.32" y2="277.1" stroke="#000" stroke-width="0.95"/>
<line x1="387.82" y1="255" x2="392.82" y2="255" stroke="#000" stroke-width="0.95"/>
<line x1="387.82" y1="277.1" x2="392.82" y2="277.1" stroke="#000" stroke-width="0.95"/>
<line x1="399.1" y1="272.9" x2="399.1" y2="279.6" stroke="#000" stroke-width="0.95"/>
<line x1="396.6" y1="272.9" x2="401.6" y2="272.9" stroke="#000" stroke-width="0.95"/>
<line x1="396.6" y1="279.6" x2="401.6" y2="279.6" stroke="#000" stroke-width="0.95"/>
<line x1="428.25" y1="285.3" x2="428.25" y2="297.9" stroke="#000" stroke-width="0.95"/>
<line x1="425.75" y1="285.3" x2="430.75" y2="285.3" stroke="#000" stroke-width="0.95"/>
<line x1="425.75" y1="297.9" x2="430.75" y2="297.9" stroke="#000" stroke-width="0.95"/>
<circle cx="340.8" cy="305.8" r="2.25" fill="#fff" stroke="#a8002c" stroke-width="1.1"/>
<circle cx="352.4" cy="308" r="2.25" fill="#fff" stroke="#a8002c" stroke-width="1.1"/>
<circle cx="361.17" cy="303.1" r="2.25" fill="#fff" stroke="#a8002c" stroke-width="1.1"/>
<circle cx="369.95" cy="309.7" r="2.25" fill="#fff" stroke="#a8002c" stroke-width="1.1"/>
<circle cx="381.55" cy="310.1" r="2.25" fill="#fff" stroke="#a8002c" stroke-width="1.1"/>
<circle cx="390.32" cy="310.1" r="2.25" fill="#fff" stroke="#a8002c" stroke-width="1.1"/>
<circle cx="399.1" cy="304.6" r="2.25" fill="#fff" stroke="#a8002c" stroke-width="1.1"/>
<circle cx="428.25" cy="302.9" r="2.25" fill="#fff" stroke="#a8002c" stroke-width="1.1"/>
<circle cx="340.8" cy="276.4" r="2.9" fill="#a8002c"/>
<circle cx="352.4" cy="288.4" r="2.9" fill="#a8002c"/>
<circle cx="361.17" cy="293.9" r="2.9" fill="#a8002c"/>
<circle cx="369.95" cy="287.2" r="2.9" fill="#a8002c"/>
<circle cx="381.55" cy="233" r="2.9" fill="#a8002c"/>
<circle cx="390.32" cy="266.2" r="2.9" fill="#a8002c"/>
<circle cx="399.1" cy="276.2" r="2.9" fill="#a8002c"/>
<circle cx="428.25" cy="291.6" r="2.9" fill="#a8002c"/>
<line x1="418.3" y1="218" x2="425.3" y2="218" stroke="#000" stroke-width="0.9"/>
<circle cx="421.8" cy="218" r="2.9" fill="#a8002c"/>
<text x="429.88" y="220.9" font-size="8.43" font-weight="normal" fill="#222" textLength="54.44" lengthAdjust="spacingAndGlyphs">ADA+ PRT/Hep</text>
<line x1="418.3" y1="229.6" x2="425.3" y2="229.6" stroke="#000" stroke-width="0.9"/>
<circle cx="421.8" cy="229.6" r="2.2" fill="#fff" stroke="#a8002c" stroke-width="1.1"/>
<text x="429.18" y="232.5" font-size="8.43" font-weight="normal" fill="#222" textLength="65.94" lengthAdjust="spacingAndGlyphs">Isotype + PRT/Hep</text>
<rect x="0.5" y="0.5" width="518.8" height="355.8" fill="none" stroke="#000" stroke-width="1.2"/>
</svg>
</body></html>
